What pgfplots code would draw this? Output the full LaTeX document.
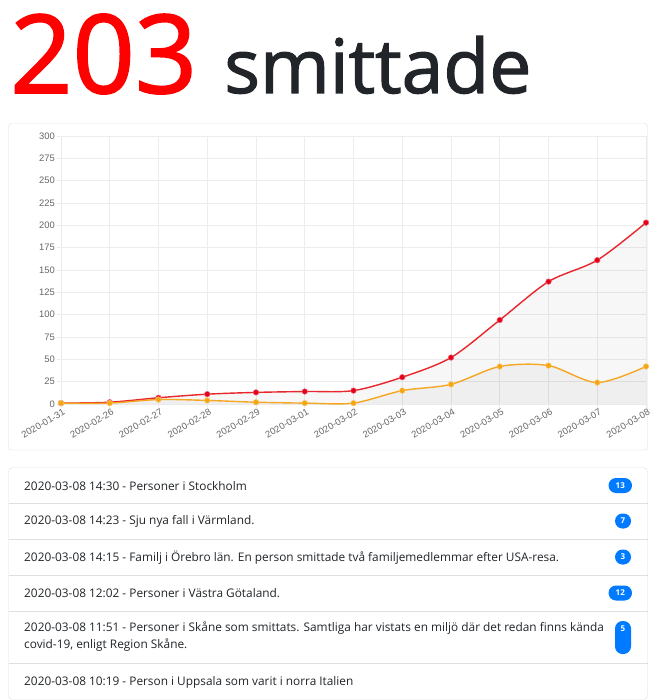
\documentclass[border=0pt]{standalone}
\usepackage{fontspec}
\setmainfont{Open Sans}
\newfontfamily\titlef[FakeBold=1.6]{Open Sans}
\newfontfamily\arialf{Liberation Sans}
\usepackage{pgfplots}
\usepackage{pgfplotstable}
\pgfplotsset{compat=1.18}
\definecolor{titlered}{HTML}{FF0000}
\definecolor{dark}{HTML}{212529}
\definecolor{cardgray}{HTML}{DFDFDF}
\definecolor{gridgray}{HTML}{ECECEC}
\definecolor{ticktext}{HTML}{666666}
\definecolor{linered}{HTML}{E8262C}
\definecolor{markred}{HTML}{E6001A}
\definecolor{lineorange}{HTML}{F5A623}
\definecolor{markorange}{HTML}{F5A50F}
\definecolor{badgeblue}{HTML}{007BFF}

\pgfplotstableread{
x total new
0 1 1
1 2 1
2 7 5
3 11 4
4 13 2
5 14 1
6 15 1
7 30 15
8 52 22
9 94 42
10 137 43
11 161 24
12 203 42
}\datatable

\begin{document}
\begin{tikzpicture}
\begin{scope}[x=1pt,y=1pt]
\useasboundingbox (0,0) rectangle (650,-700);
\fill[white] (0,0) rectangle (650,-700);
% title
\node[anchor=base west, inner sep=0, text=titlered, font=\titlef\fontsize{109}{112}\selectfont] at (10,-93) {203};
\node[anchor=base west, inner sep=0, text=dark, font=\titlef\fontsize{75}{80}\selectfont] at (224,-93) {smittade};
% chart card
\draw[cardgray, rounded corners=3] (8.5,-123.5) rectangle (647.5,-450);
\end{scope}
\begin{axis}[
  at={(61pt,-404pt)}, anchor=south west,
  scale only axis, width=585pt, height=268pt,
  xmin=0, xmax=12, ymin=0, ymax=300,
  xtick={0,...,12},
  xticklabels={2020-01-31,2020-02-26,2020-02-27,2020-02-28,2020-02-29,2020-03-01,2020-03-02,2020-03-03,2020-03-04,2020-03-05,2020-03-06,2020-03-07,2020-03-08},
  ytick={0,25,...,300},
  grid=major,
  major grid style={draw=gridgray, line width=0.6pt},
  axis line style={draw=gridgray, line width=0.6pt},
  tick style={draw=gridgray, line width=0.6pt},
  major tick length=4pt,
  tick align=outside,
  xtick pos=lower, ytick pos=left,
  /pgf/number format/assume math mode=true,
  tick label style={font=\arialf\fontsize{9.4}{10}\selectfont, text=ticktext},
  x tick label style={rotate=30, anchor=north east, inner sep=1pt, xshift=2pt},
  y tick label style={inner sep=1pt, xshift=-1pt},
  clip=true,
]
\addplot[draw=none, fill=black, fill opacity=0.03, smooth] table[x=x,y=total]{\datatable} \closedcycle;
\addplot[draw=none, fill=black, fill opacity=0.03, smooth] table[x=x,y=new]{\datatable} \closedcycle;
\addplot[linered, line width=1.4pt, smooth, mark=*, mark size=2.8pt, mark options={fill=markred, draw=markred!60!white, line width=0.5pt}] table[x=x,y=total]{\datatable};
\addplot[lineorange, line width=1.4pt, smooth, mark=*, mark size=2.8pt, mark options={fill=markorange, draw=markorange!60!white, line width=0.5pt}] table[x=x,y=new]{\datatable};
\end{axis}
\begin{scope}[x=1pt,y=1pt]
% list group
\draw[cardgray, rounded corners=4] (8.5,-467.5) rectangle (647.5,-699.5);
\foreach \yy in {503.5,539.5,575.5,611.5,663.5} {\draw[cardgray] (8.5,-\yy) -- (647.5,-\yy);}
\tikzset{itm/.style={anchor=west, inner sep=0, text=dark, font=\fontsize{11.85}{17}\selectfont}}
\node[itm] at (24,-486) {2020-03-08 14:30 - Personer i Stockholm};
\node[itm] at (24,-521.5) {2020-03-08 14:23 - Sju nya fall i Värmland.};
\node[itm] at (24,-557.5) {2020-03-08 14:15 - Familj i Örebro län. En person smittade två familjemedlemmar efter USA-resa.};
\node[itm] at (24,-593.5) {2020-03-08 12:02 - Personer i Västra Götaland.};
\node[itm, anchor=north west, align=left] at (24,-622) {2020-03-08 11:51 - Personer i Skåne som smittats. Samtliga har vistats en miljö där det redan finns kända\\covid-19, enligt Region Skåne.};
\node[itm] at (24,-682) {2020-03-08 10:19 - Person i Uppsala som varit i norra Italien};
% badges
\tikzset{bdg/.style={text=white, inner sep=0, font=\bfseries\fontsize{8}{9}\selectfont}}
\fill[badgeblue, rounded corners=7.5] (608.5,-478) rectangle (632,-493);
\node[bdg] at (620.25,-485.5) {13};
\fill[badgeblue, rounded corners=7.5] (615,-513.5) rectangle (631,-528.5);
\node[bdg] at (623,-521) {7};
\fill[badgeblue, rounded corners=7.5] (615,-549.5) rectangle (631,-564.5);
\node[bdg] at (623,-557) {3};
\fill[badgeblue, rounded corners=7.5] (608.5,-585.5) rectangle (632,-600.5);
\node[bdg] at (620.25,-593) {12};
\fill[badgeblue, rounded corners=7.5] (615,-621) rectangle (631,-654);
\node[bdg] at (623,-628.5) {5};
\end{scope}
\end{tikzpicture}
\end{document}
